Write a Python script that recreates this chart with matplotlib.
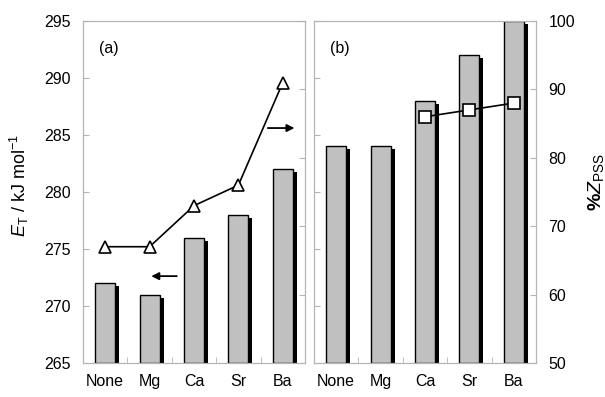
import numpy as np
import matplotlib
matplotlib.use('Agg')
import matplotlib.pyplot as plt
from matplotlib.ticker import FixedLocator

plt.rcParams['font.family'] = ['Liberation Sans', 'DejaVu Sans']
plt.rcParams['mathtext.fontset'] = 'custom'
plt.rcParams['mathtext.rm'] = 'Liberation Sans'
plt.rcParams['mathtext.it'] = 'Liberation Sans:italic'
plt.rcParams['mathtext.bf'] = 'Liberation Sans:bold'

categories = ['None', 'Mg', 'Ca', 'Sr', 'Ba']
et_a = [272, 271, 276, 278, 282]
z_a = [67, 67, 73, 76, 91]
et_b = [284, 284, 288, 292, 295]
z_b = [np.nan, np.nan, 86, 87, 88]

spine_col = '#b4b4b4'
bar_col = '#c0c0c0'
fs = 11.5

W, H = 605, 397
fig = plt.figure(figsize=(W / 100, H / 100), dpi=100)


def panel(left, et, z, marker, tag, first):
    ax = fig.add_axes([left / W, (H - 363) / H, 222 / W, 342 / H])
    x = np.arange(len(categories))
    bw = 0.45
    et = np.array(et, dtype=float)
    ax.bar(x + 0.09, et - 265 - 0.27, bw, bottom=265, color='black', zorder=1)
    ax.bar(x, et - 265, bw, bottom=265, color=bar_col, edgecolor='black',
           linewidth=1.0, zorder=2)
    ax.set_xlim(-0.5, len(categories) - 0.5)
    ax.set_ylim(265, 295)
    ax.set_yticks(np.arange(265, 296, 5))
    ax.set_xticks(x)
    ax.set_xticklabels(categories, fontsize=fs)
    ax.xaxis.set_minor_locator(FixedLocator(x[:-1] + 0.5))
    ax.tick_params(axis='x', which='major', length=0, pad=8)
    ax.tick_params(axis='x', which='minor', direction='in', length=4, color=spine_col)
    ax.tick_params(axis='y', direction='in', length=4, color=spine_col,
                   labelsize=fs, pad=9, labelleft=first)
    for s in ax.spines.values():
        s.set_color(spine_col)

    ax2 = ax.twinx()
    ax2.set_ylim(50, 100)
    ax2.set_yticks(np.arange(50, 101, 10))
    ax2.tick_params(axis='y', direction='in', length=4, color=spine_col,
                    labelsize=fs, pad=9, labelright=not first)
    for s in ax2.spines.values():
        s.set_color(spine_col)
    ax2.plot(x, z, color='black', lw=1.2, marker=marker, markersize=8,
             markerfacecolor='white', markeredgecolor='black', markeredgewidth=1.2,
             zorder=5, clip_on=False)
    ax2.text(0.07, 0.92, tag, transform=ax.transAxes, fontsize=fs, va='center')
    return ax, ax2


ax_a, ax_a2 = panel(83, et_a, z_a, '^', '(a)', True)
ax_b, ax_b2 = panel(314, et_b, z_b, 's', '(b)', False)

ax_a.set_ylabel(r'$\it{E}_{\rm T}$ / kJ mol$^{-1}$', fontsize=13)
ax_a.yaxis.set_label_coords(-0.235, 0.52)
ax_b2.set_ylabel(r'$\bf{\%}\bf{\it{Z}}$$_{\rm PSS}$', fontsize=14)
ax_b2.yaxis.set_label_coords(1.225, 0.53)

arrow = dict(arrowstyle='-|>', color='black', lw=1.3, mutation_scale=11)
ax_a.annotate('', xy=(0.965, 0.687), xytext=(0.82, 0.687),
              xycoords='axes fraction', arrowprops=arrow)
ax_a.annotate('', xy=(0.295, 0.254), xytext=(0.435, 0.254),
              xycoords='axes fraction', arrowprops=arrow)

fig.savefig('out.png', dpi=100)
